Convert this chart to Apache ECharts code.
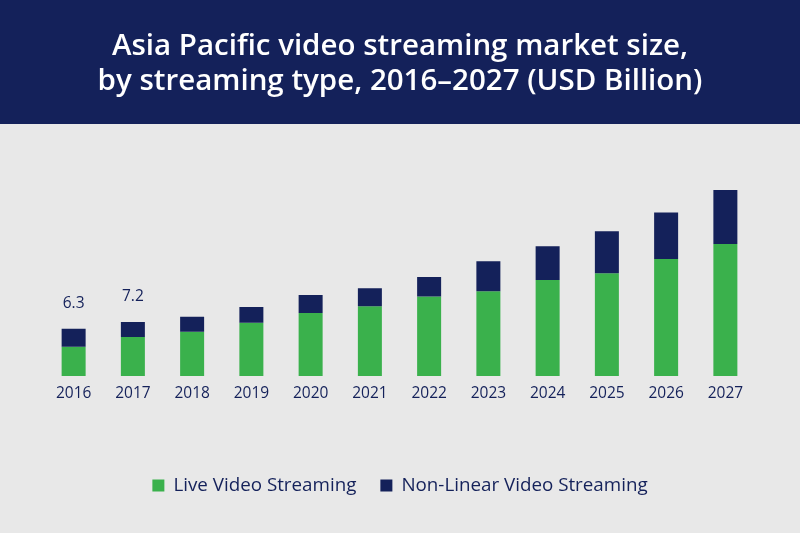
<!DOCTYPE html>
<html>
<head>
<meta charset="utf-8">
<script src="https://cdn.jsdelivr.net/npm/echarts@6/dist/echarts.min.js"></script>
<style>
html,body{margin:0;padding:0;background:#e8e8e8;}
#chart{width:800px;height:533px;}
</style>
</head>
<body>
<div id="chart"></div>
<script>
const years = ['2016','2017','2018','2019','2020','2021','2022','2023','2024','2025','2026','2027'];
const liveStreaming = [3.9, 5.2, 5.9, 7.1, 8.4, 9.3, 10.6, 11.3, 12.8, 13.7, 15.6, 17.6];
const nonLinearStreaming = [2.4, 2.0, 2.0, 2.1, 2.4, 2.4, 2.6, 4.0, 4.5, 5.6, 6.2, 7.2];
const totalLabels = ['6.3', '7.2', '', '', '', '', '', '', '', '', '', ''];

const navy = '#14215a';
const green = '#3ab14c';
const font = 'Open Sans';

const chart = echarts.init(document.getElementById('chart'), null, {renderer: 'canvas'});
chart.setOption({
  backgroundColor: '#e8e8e8',
  animation: false,
  graphic: [{
    type: 'rect', left: 0, top: 0, z: 0,
    shape: {width: 800, height: 124},
    style: {fill: navy}
  }],
  title: {
    text: 'Asia Pacific video streaming market size,\nby streaming type, 2016–2027 (USD Billion)',
    left: 'center', top: 24,
    textStyle: {color: '#ffffff', fontSize: 29.5, fontWeight: 600, fontFamily: font, lineHeight: 35},
    z: 5
  },
  legend: {
    bottom: 33, left: 'center',
    itemWidth: 12, itemHeight: 12, itemGap: 24,
    icon: 'rect',
    textStyle: {color: navy, fontSize: 18.8, fontFamily: font, padding: [0,0,0,4]},
    data: ['Live Video Streaming', 'Non-Linear Video Streaming']
  },
  grid: {left: 44, right: 45, top: 151, bottom: 157, containLabel: false},
  xAxis: {
    type: 'category', data: years,
    axisLine: {show: false}, axisTick: {show: false},
    axisLabel: {color: navy, fontSize: 15.5, fontFamily: font, margin: 10}
  },
  yAxis: {
    type: 'value', min: 0, max: 30, show: false,
    splitLine: {show: false}
  },
  series: [{
    name: 'Live Video Streaming', type: 'bar', stack: 'total',
    data: liveStreaming, barWidth: 24,
    itemStyle: {color: green}
  }, {
    name: 'Non-Linear Video Streaming', type: 'bar', stack: 'total',
    data: nonLinearStreaming, barWidth: 24,
    itemStyle: {color: navy},
    label: {
      show: true, position: 'top', distance: 17,
      color: navy, fontSize: 15.5, fontFamily: font,
      formatter: p => totalLabels[p.dataIndex]
    }
  }]
});
</script>
</body>
</html>
